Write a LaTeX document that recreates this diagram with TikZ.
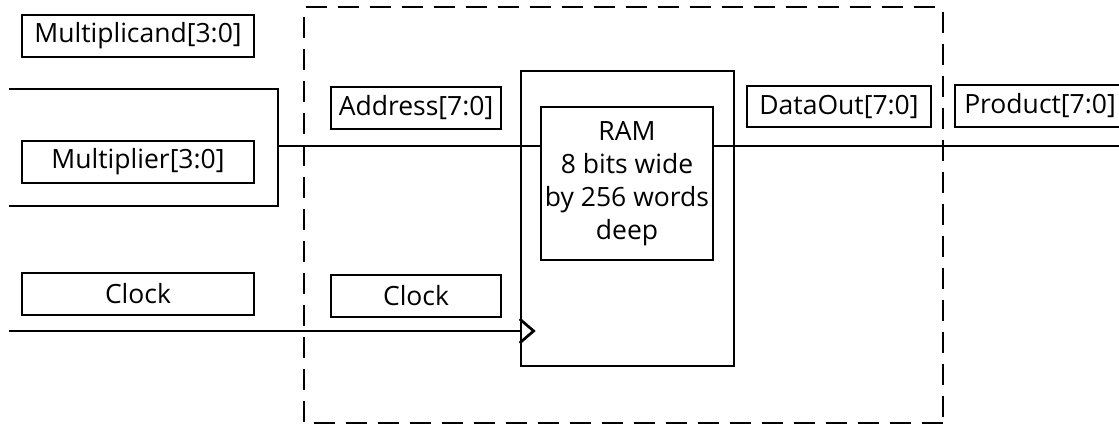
\documentclass[tikz,border=0pt]{standalone}
\usepackage{fontspec}
\setmainfont{Open Sans}
\begin{document}
\begin{tikzpicture}[x=1pt,y=-1pt,
  wire/.style={line width=2.7pt},
  lbl/.style={draw,line width=2.7pt,inner sep=0pt,minimum height=42pt,font=\fontsize{26.5}{30}\selectfont},
  dashbox/.style={line width=2.7pt,dash pattern=on 21pt off 11pt}]
\useasboundingbox (0,0) rectangle (1119,427);
% labels
\node[lbl,minimum width=232pt] (mcand) at (138,36) {Multiplicand[3:0]};
\node[lbl,minimum width=232pt] (mplier) at (138,162) {Multiplier[3:0]};
\node[lbl,minimum width=232pt] (clk1) at (138,294) {Clock};
\node[lbl,minimum width=170pt] (addr) at (416,108) {Address[7:0]};
\node[lbl,minimum width=170pt] (clk2) at (416,296) {Clock};
\node[lbl,minimum width=184pt,minimum height=41pt] (dout) at (839,106.5) {DataOut[7:0]};
\node[lbl,minimum width=170pt,minimum height=42pt] (prod) at (1040,106) {Product[7:0]};
% RAM
\node[draw,line width=2.7pt,minimum width=213pt,minimum height=295pt,inner sep=0pt] (ram) at (627.5,218.5) {};
\node[draw,line width=2.7pt,minimum width=172pt,minimum height=153pt,inner sep=0pt,align=center,font=\fontsize{26.5}{33}\selectfont] (inner) at (627,183.5) {RAM\\8 bits wide\\by 256 words\\deep};
% dashed boundary
\draw[dashbox] (306,7) -- (943,7);
\draw[dashbox] (943,12) -- (943,423);
\draw[dashbox] (304,17) -- (304,423);
\draw[dashbox] (314,423) -- (943,423);
% multiplier bracket
\coordinate (mtl) at (9,89);
\coordinate (mtr) at (278,89);
\coordinate (mbr) at (278,206);
\coordinate (mbl) at (9,206);
\coordinate (mj) at (278,146);
\draw[wire] (mtl) -- (mtr) -- (mbr) -- (mbl);
\draw[wire] (mj) -- (mj -| inner.west);
% output
\coordinate (oend) at (1125,146);
\draw[wire] (oend -| inner.east) -- (oend);
% clock
\coordinate (cstart) at (9,331);
\draw[wire] (cstart) -- (cstart -| ram.west);
\draw[wire,line join=miter] ([yshift=12pt]cstart -| ram.west) -- ([xshift=14pt]cstart -| ram.west) -- ([yshift=-12pt]cstart -| ram.west);
\end{tikzpicture}
\end{document}
